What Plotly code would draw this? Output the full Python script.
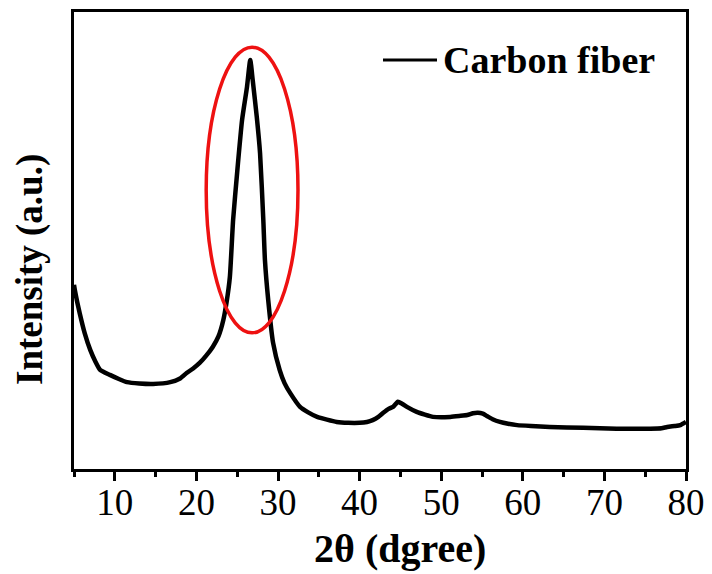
import plotly.graph_objects as go

# 2-theta (degree) and intensity (a.u.)
two_theta = [5.0, 5.1, 5.4, 5.7, 6.3, 7.0, 7.6, 8.2, 9.4, 10.5, 11.5, 13.0, 14.7, 16.8, 18.0, 18.8,
             19.6, 20.4, 21.2, 22.0, 22.7, 23.3, 23.7, 24.1,
             24.5, 25.0, 25.6, 26.2, 26.6, 26.9, 27.4, 27.8, 28.2, 28.4, 28.8, 29.4, 30.2,
             30.8, 31.5, 32.7, 33.7, 34.8, 36.0, 37.2, 38.6, 40.0, 40.9, 41.6, 42.3, 42.9, 43.5,
             44.1, 44.7, 45.2, 45.8, 47.0, 48.0, 49.0, 50.0, 51.1, 52.2,
             53.2, 53.9, 54.5, 55.1, 55.6, 56.3, 57.2, 58.2, 59.3, 61.0, 63.3, 67.4, 71.5, 75.6,
             77.0, 77.7, 78.6, 79.3, 80.0]
intensity = [40.3, 39.2, 36.5, 34.1, 29.8, 26.0, 23.6, 21.7, 20.6, 19.7, 19.0, 18.7, 18.6, 19.0,
             19.8, 21.0, 22.0, 23.2, 24.8, 26.7, 29.0, 32.6, 36.5, 42.0,
             54.5, 65.0, 76.4, 83.6, 89.5, 85.1, 77.0, 69.1, 54.5, 45.7, 37.0, 27.6, 21.7,
             18.8, 16.6, 13.6, 12.4, 11.4, 10.8, 10.3, 10.1, 10.1, 10.3, 10.7, 11.4, 12.3, 13.1,
             13.6, 14.7, 14.3, 13.6, 12.5, 11.9, 11.4, 11.3, 11.4, 11.6,
             11.8, 12.2, 12.3, 12.1, 11.6, 10.9, 10.3, 9.9, 9.6, 9.4, 9.2, 9.0, 8.8, 8.8,
             8.9, 9.2, 9.4, 9.6, 10.3]

series_name = "Carbon fiber"
x_tick_values = [10, 20, 30, 40, 50, 60, 70, 80]
x_tick_labels = ["10", "20", "30", "40", "50", "60", "70", "80"]

# highlighted peak region (ellipse bounds)
peak_x = [21.2, 32.45]
peak_y = [29.8, 92.3]

FONT = "Liberation Serif"

fig = go.Figure()
fig.add_trace(go.Scatter(
    x=two_theta, y=intensity, mode="lines", name=series_name,
    line=dict(color="black", width=4.5, shape="spline", smoothing=0.5), showlegend=False,
))

fig.add_shape(type="circle", xref="x", yref="y",
              x0=peak_x[0], x1=peak_x[1], y0=peak_y[0], y1=peak_y[1],
              line=dict(color="#ee1111", width=3.5))

# legend (line + label)
fig.add_shape(type="line", xref="paper", yref="paper",
              x0=(383 - 74) / 612, x1=(437 - 74) / 612,
              y0=(469 - 60) / 457, y1=(469 - 60) / 457,
              line=dict(color="black", width=3))
fig.add_annotation(xref="paper", yref="paper", x=(441 - 74) / 612, y=(469 - 60) / 457,
                   text="<b>" + series_name + "</b>", showarrow=False,
                   xanchor="left", yanchor="middle",
                   font=dict(family=FONT, size=38, color="black"))

# axis titles
fig.add_annotation(xref="paper", yref="paper", x=(400 - 74) / 612, y=(469 - 548) / 457,
                   text="<b>2θ (dgree)</b>", showarrow=False,
                   xanchor="center", yanchor="middle",
                   font=dict(family=FONT, size=40, color="black"))
fig.add_annotation(xref="paper", yref="paper", x=(30 - 74) / 612, y=(469 - 270) / 457,
                   text="<b>Intensity (a.u.)</b>", showarrow=False, textangle=-90,
                   xanchor="center", yanchor="middle",
                   font=dict(family=FONT, size=37, color="black"))

fig.update_xaxes(
    range=[5, 80], showline=True, linecolor="black", linewidth=3, mirror=True,
    ticks="outside", ticklen=9, tickwidth=2.5, tickcolor="black",
    tickvals=x_tick_values, ticktext=x_tick_labels,
    minor=dict(ticks="outside", ticklen=5, tickwidth=2.5, tickcolor="black",
               tickvals=[5, 15, 25, 35, 45, 55, 65, 75]),
    tickfont=dict(family=FONT, size=37, color="black"),
    ticklabelstandoff=-10,
    showgrid=False, zeroline=False, automargin=False,
)
fig.update_yaxes(
    range=[0, 100], showline=True, linecolor="black", linewidth=3, mirror=True,
    showticklabels=False, ticks="", showgrid=False, zeroline=False, automargin=False,
)

fig.update_layout(
    width=712, height=574,
    margin=dict(l=74, r=26, t=12, b=105),
    paper_bgcolor="white", plot_bgcolor="white",
    showlegend=False,
)

fig.write_html("out.html", config={"displayModeBar": False},
               post_script="document.body.style.margin='0';document.body.style.overflow='hidden';")
